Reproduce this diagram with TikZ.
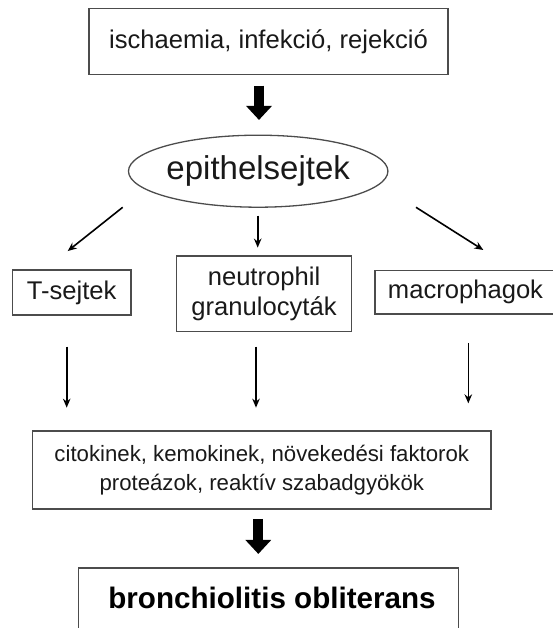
\documentclass[tikz,border=0pt]{standalone}
\usepackage{fontspec}
\setmainfont{Liberation Sans}
\usetikzlibrary{arrows.meta,shapes.geometric,calc}
\begin{document}
\begin{tikzpicture}[x=1pt,y=-1pt,
  box/.style={draw=black!70, line width=1.3pt, inner sep=0pt, align=center, text=black!90},
  txt/.style={font=\fontsize{25.6}{30}\selectfont},
  arr/.style={draw=black, line width=1.6pt, -{Stealth[length=9pt,width=7.5pt]}},
  fat/.style={draw=black, line width=10pt, -{Triangle[length=14pt,width=25pt]}}]
\useasboundingbox (0,0) rectangle (553,628);
\clip (0,0) rectangle (553,628);
\node[box,txt,minimum width=359,minimum height=66] (top) at (268.5,41.3) {ischaemia, infekció, rejekció};
\node[box,ellipse,minimum width=254,minimum height=72,font=\fontsize{33}{38}\selectfont] (epi) at (258.2,171.2) {epithelsejtek};
\node[box,txt,minimum width=118.7,minimum height=45] (ts) at (71.7,292.5) {T-sejtek};
\node[box,txt,minimum width=174.6,minimum height=75.7] (ne) at (264,293.8) {neutrophil\\granulocyták};
\node[box,txt,minimum width=181,minimum height=43.3] (ma) at (465.5,292.3) {macrophagok};
\node[box,minimum width=458.3,minimum height=78,font=\fontsize{22.2}{28.5}\selectfont] (ci) at (261.8,470) {citokinek, kemokinek, növekedési faktorok\\proteázok, reaktív szabadgyökök};
\node[box,minimum width=380.4,minimum height=80,anchor=north] (bo) at (268.5,567.3) {};
\node[font=\fontsize{29.6}{34}\selectfont\bfseries,text=black] (bot) at (272,598) {bronchiolitis obliterans};
% thick arrows
\coordinate (f1) at ($(top.south)+(-9.5,10.7)$);
\coordinate (f2) at ($(f1)+(0,34.3)$);
\draw[fat] (f1) -- (f2);
\coordinate (g1) at ($(ci.south)+(-3.5,9.3)$);
\coordinate (g2) at ($(g1)+(0,35)$);
\draw[fat] (g1) -- (g2);
% arrows from ellipse
\draw[arr] ([shift={(-135.5,36.1)}]epi.center) -- ([shift={(-4,-18.3)}]ts.north);
\draw[arr] ([shift={(-0.5,7.8)}]epi.south) -- ([shift={(-6.3,-7.7)}]ne.north);
\draw[arr] ([shift={(157.8,36.1)}]epi.center) -- ([shift={(17.8,-20)}]ma.north);
% down arrows
\coordinate (a1) at ([shift={(-5,31)}]ts.south);
\coordinate (b1) at ([shift={(0,-22.7)}]ci.north);
\draw[arr] (a1) -- (a1 |- b1);
\coordinate (a2) at ([shift={(-8,14.3)}]ne.south);
\draw[arr] (a2) -- (a2 |- b1);
\coordinate (a3) at ([shift={(2.8,28.3)}]ma.south);
\coordinate (b3) at ([shift={(0,-27)}]ci.north);
\draw[arr] (a3) -- (a3 |- b3);
\end{tikzpicture}
\end{document}
